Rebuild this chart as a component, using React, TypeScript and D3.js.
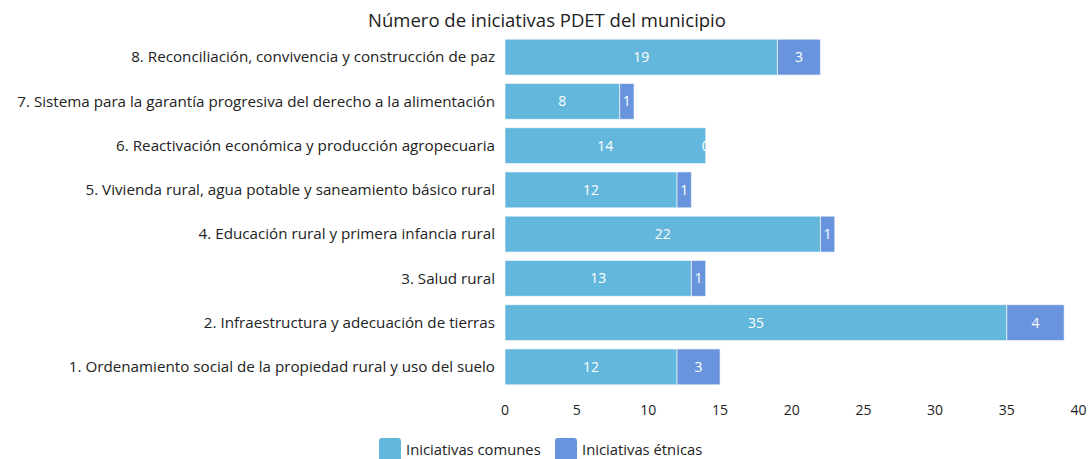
import { useEffect, useRef } from 'react';
import * as d3 from 'd3';

const categories = [
  '8. Reconciliación, convivencia y construcción de paz',
  '7. Sistema para la garantía progresiva del derecho a la alimentación',
  '6. Reactivación económica y producción agropecuaria',
  '5. Vivienda rural, agua potable y saneamiento básico rural',
  '4. Educación rural y primera infancia rural',
  '3. Salud rural',
  '2. Infraestructura y adecuación de tierras',
  '1. Ordenamiento social de la propiedad rural y uso del suelo',
];
const comunes = [19, 8, 14, 12, 22, 13, 35, 12];
const etnicas = [3, 1, 0, 1, 1, 1, 4, 3];
const seriesNames = ['Iniciativas comunes', 'Iniciativas étnicas'];
const xTicks = [0, 5, 10, 15, 20, 25, 30, 35, 40];

const colors = ['#64b7dc', '#6894de'];
const font = '"Open Sans", "Noto Sans", sans-serif';

const App = () => {
  const ref = useRef<SVGSVGElement>(null);

  useEffect(() => {
    const svg = d3.select(ref.current);
    svg.selectAll('*').remove();

    const width = 1090;
    const height = 459;
    svg.attr('width', width).attr('height', height);

    const x = d3.scaleLinear().domain([0, 40]).range([505, 1078.5]);
    const y = d3.scaleBand().domain(categories).range([35, 389]).paddingInner(0.19).paddingOuter(0.095);

    svg.append('text')
      .attr('x', 547)
      .attr('y', 27)
      .attr('text-anchor', 'middle')
      .style('font-family', font)
      .style('font-size', '18.5px')
      .style('fill', '#222')
      .text('Número de iniciativas PDET del municipio');

    const rows = categories.map((c, i) => ({ c, vals: [comunes[i], etnicas[i]] }));

    const defs = svg.append('defs');
    const g = svg.append('g');

    rows.forEach((r, i) => {
      let start = 0;
      r.vals.forEach((v, s) => {
        const x0 = x(start);
        const x1 = x(start + v);
        const yy = y(r.c)!;
        const bh = y.bandwidth();
        g.append('rect')
          .attr('x', x0)
          .attr('y', yy)
          .attr('width', x1 - x0)
          .attr('height', bh)
          .attr('fill', colors[s])
          .attr('stroke', 'rgba(255,255,255,0.6)')
          .attr('stroke-width', 1);
        // zero segments show only the half of their label that sits on the bar
        const clipId = `clip-${i}-${s}`;
        defs.append('clipPath').attr('id', clipId)
          .append('rect')
          .attr('x', v === 0 ? x0 - 8 : x0)
          .attr('y', yy)
          .attr('width', v === 0 ? 8.5 : x1 - x0)
          .attr('height', bh);
        g.append('text')
          .attr('x', (x0 + x1) / 2)
          .attr('y', yy + bh / 2)
          .attr('dy', '0.35em')
          .attr('text-anchor', 'middle')
          .attr('clip-path', `url(#${clipId})`)
          .style('font-family', font)
          .style('font-size', '14px')
          .style('fill', '#fff')
          .text(v);
        start += v;
      });
    });

    // category labels
    svg.append('g')
      .selectAll('text')
      .data(categories)
      .enter()
      .append('text')
      .attr('x', 495)
      .attr('y', (d) => y(d)! + y.bandwidth() / 2)
      .attr('dy', '0.35em')
      .attr('text-anchor', 'end')
      .style('font-family', font)
      .style('font-size', '15.2px')
      .style('fill', '#222')
      .text((d) => d);

    // x tick labels
    svg.append('g')
      .selectAll('text')
      .data(xTicks)
      .enter()
      .append('text')
      .attr('x', (d) => x(d))
      .attr('y', 410)
      .attr('dy', '0.35em')
      .attr('text-anchor', 'middle')
      .style('font-family', font)
      .style('font-size', '14px')
      .style('fill', '#222')
      .text((d) => d);

    // legend
    const legendX = [379, 555];
    const lg = svg.append('g');
    seriesNames.forEach((name, i) => {
      lg.append('rect')
        .attr('x', legendX[i])
        .attr('y', 438)
        .attr('width', 22)
        .attr('height', 24)
        .attr('rx', 3)
        .attr('fill', colors[i]);
      lg.append('text')
        .attr('x', legendX[i] + 27)
        .attr('y', 450)
        .attr('dy', '0.35em')
        .style('font-family', font)
        .style('font-size', '14.8px')
        .style('fill', '#222')
        .text(name);
    });
  }, []);

  return <svg ref={ref} style={{ position: 'absolute', left: 0, top: 0 }}></svg>;
};

export default App;
